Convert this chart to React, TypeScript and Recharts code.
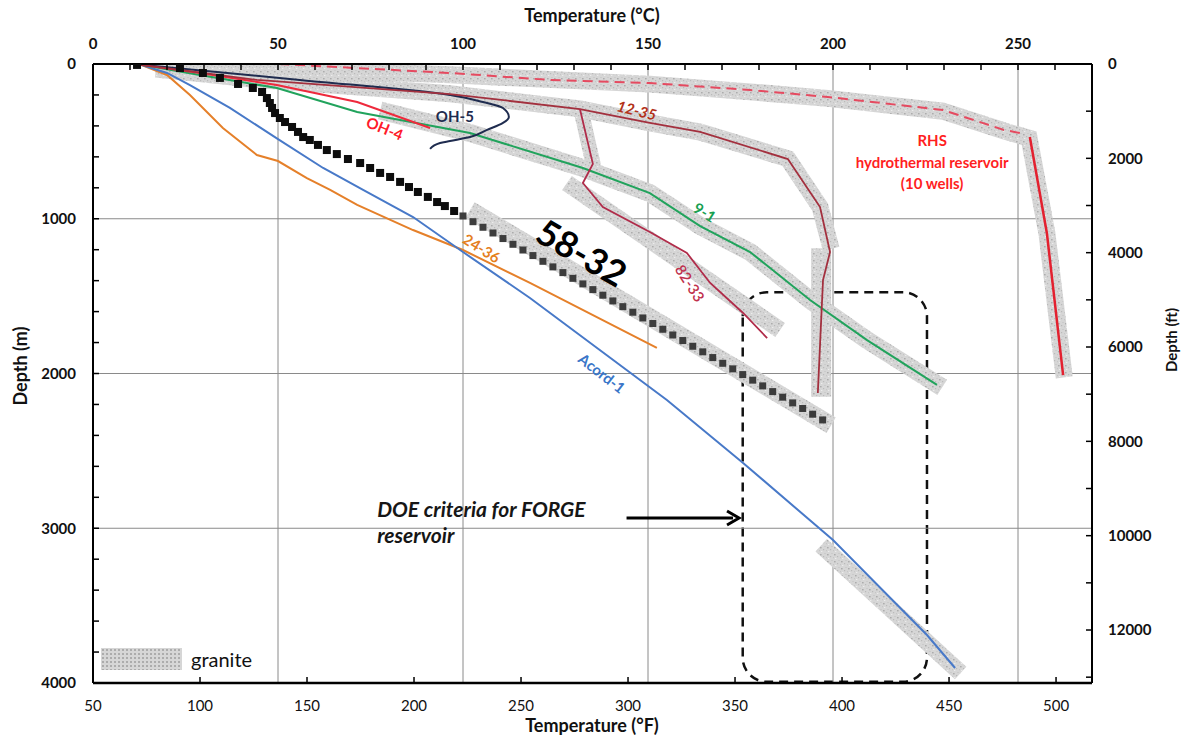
import React from 'react';
import {
  ComposedChart, Line, XAxis, YAxis, ReferenceLine, ReferenceArea, ReferenceDot, Legend, Label, Rectangle,
} from 'recharts';

const FONT = 'Lato, "Open Sans", "DejaVu Sans", sans-serif';

// ---------- axes ----------
const tempTicksC = [0, 10, 20, 30, 40, 50, 60, 70, 80, 90, 100, 110, 120, 130, 140, 150, 160, 170, 180, 190, 200, 210, 220, 230, 240, 250, 260];
const tempTicksF = [50, 100, 150, 200, 250, 300, 350, 400, 450, 500];
const depthTicksM = [0, 200, 400, 600, 800, 1000, 1200, 1400, 1600, 1800, 2000, 2200, 2400, 2600, 2800, 3000, 3200, 3400, 3600, 3800, 4000];
const depthTicksFt = [0, 1000, 2000, 3000, 4000, 5000, 6000, 7000, 8000, 9000, 10000, 11000, 12000, 13000];
const gridTempC = [50, 100, 150, 200, 250];
const gridDepthM = [1000, 2000, 3000];
// extent of the °F scale (used only to anchor the bottom axis)
const fahrenheitSpan = [[50, 0], [516.8, 0]];

// ---------- wells: [temperature °C, depth m] ----------
const well5832Upper = [
  [11.9, 6], [23.5, 26], [29.7, 58], [34.3, 90], [39.2, 129], [43.2, 155], [45.7, 181], [47.0, 220], [47.8, 252],
  [48.4, 284], [49.2, 317], [50.5, 349], [51.9, 375], [53.8, 407], [55.4, 439], [56.8, 472], [58.6, 491], [60.8, 523],
  [63.2, 556], [65.9, 582], [68.9, 614], [72.2, 640], [74.9, 672], [77.6, 704], [80.3, 730], [83.0, 762], [85.4, 795],
  [87.8, 827], [90.5, 859], [93.0, 892], [95.1, 918], [97.6, 950],
];
const well5832Lower = [
  [100.0, 982], [102.7, 1019], [105.4, 1055], [108.1, 1092], [110.8, 1128], [113.5, 1165], [116.2, 1202], [118.9, 1238],
  [121.6, 1275], [124.3, 1311], [127.0, 1348], [129.7, 1385], [132.4, 1421], [135.1, 1458], [137.8, 1494], [140.5, 1531],
  [143.2, 1568], [145.9, 1604], [148.6, 1641], [151.3, 1677], [154.0, 1714], [156.7, 1751], [159.4, 1787], [162.1, 1824],
  [164.8, 1860], [167.5, 1897], [170.2, 1934], [172.9, 1970], [175.6, 2007], [178.3, 2043], [181.0, 2080], [183.7, 2117],
  [186.4, 2153], [189.1, 2190], [191.8, 2226], [194.5, 2263], [197.2, 2300],
];
const wellAcord1 = [
  [13, 5], [20, 58], [26.2, 136], [37, 284], [50, 485], [62.2, 672], [73, 814], [86.5, 989], [100, 1215],
  [118.1, 1512], [155.1, 2171], [175.7, 2578], [200, 3076], [225.4, 3690], [233, 3903],
];
const well2436 = [
  [13, 5], [20, 71], [26.2, 200], [35.1, 414], [44.3, 588], [50, 627], [57.8, 737], [64.1, 814], [71.4, 911],
  [86.5, 1073], [100, 1202], [118.1, 1415], [152.4, 1835],
];
const well91 = [
  [13, 5], [28.9, 71], [49.7, 155], [71.4, 310], [101.9, 446], [132.4, 672], [150.5, 834], [164.1, 1047],
  [177.6, 1215], [193.8, 1525], [209.2, 1784], [228.1, 2074],
];
const wellOH4 = [[13, 5], [28.9, 58], [49.7, 136], [71.4, 246], [91.1, 414]];
const wellOH5 = [
  [13, 5], [55.9, 103], [96.5, 200], [105.4, 246], [110.8, 284], [112.4, 342], [110.8, 381], [106.5, 426],
  [101.9, 472], [96.5, 498], [93.8, 511], [91.1, 549],
];
const well1235 = [
  [13, 5], [44.3, 103], [96.5, 194], [131.6, 291], [150.5, 381], [164.1, 439], [187.8, 614], [196.5, 924],
  [199.2, 1215], [197.3, 1396], [195.9, 2126],
];
const well8233 = [
  [131.6, 291], [135.1, 645], [132.4, 769], [137.8, 924], [150.5, 1086], [160.5, 1221], [166.8, 1415],
  [175.7, 1609], [182.2, 1771],
];
const rhsShallow = [
  [50.3, 0], [96.5, 58], [123.5, 103], [150.5, 123], [177.6, 168], [198.6, 213], [229.7, 297], [246.2, 426], [250.5, 446],
];
const rhsDeep = [[253.2, 472], [257.8, 1092], [262.2, 2010]];

// ---------- granite intervals ----------
const graniteRHS = [
  [17, 25], [50.3, 30], [96.5, 70], [150.5, 130], [177.6, 180], [198.6, 222], [229.7, 305], [246.2, 432],
  [253, 480], [257.8, 1092], [262.5, 2025],
];
const granite1235 = [
  [17, 32], [44.3, 100], [96.5, 192], [131.6, 290], [150.5, 380], [164.1, 440], [187.8, 612], [196.5, 924], [199.5, 1195],
];
const granite1235Deep = [[196.8, 1190], [196.8, 2150]];
const granite8233Upper = [[131.8, 290], [135.3, 660]];
const granite8233 = [[128.1, 769], [185.7, 1719]];
const granite91 = [
  [77.6, 300], [101.9, 446], [132.4, 672], [150.5, 834], [164.1, 1047], [177.6, 1215], [193.8, 1525], [209.2, 1784], [229.5, 2090],
];
const granite5832 = [[101.9, 943], [199.5, 2335]];
const graniteAcord = [[196.8, 3110], [234.5, 3935]];

// ---------- DOE FORGE criteria ----------
const forgeTemp = [175.6, 225.4];
const forgeDepth = [1475, 3992];
const arrowTemp = [144.2, 174.6];
const arrowDepth = 2934;

// ---------- annotation texts ----------
const wellNames = ['58-32', '24-36', 'Acord-1', 'OH-4', 'OH-5', '12-35', '9-1', '82-33'];
const wellNameTemp = [132.2, 105.1, 137.6, 78.9, 97.8, 147, 165.4, 161.4];
const wellNameDepth = [1215, 1189, 1997, 414, 336, 297, 956, 1415];
const rhsLines = ['RHS', 'hydrothermal reservoir', '(10 wells)'];
const rhsLineDepth = [491, 633, 769];
const doeLines = ['DOE criteria for FORGE', 'reservoir'];
const doeLineDepth = [2927, 3095];

const rows = (pairs: number[][]) => pairs.map(([t, d]) => ({ t, d }));

const nameStyle: Record<string, { color: string; size: number; rot: number; italic?: boolean; weight?: number }> = {
  '58-32': { color: '#000', size: 36, rot: 30 },
  '24-36': { color: '#e5801f', size: 15, rot: 32 },
  'Acord-1': { color: '#3a76c8', size: 15, rot: 38 },
  'OH-4': { color: '#ff1a2a', size: 15, rot: 22 },
  'OH-5': { color: '#1f2c4f', size: 15, rot: 0 },
  '12-35': { color: '#b3321a', size: 15, rot: 14, italic: true },
  '9-1': { color: '#18a050', size: 15, rot: 32 },
  '82-33': { color: '#c0304c', size: 15, rot: 57, weight: 600 },
};

const AX = { xAxisId: 'c', yAxisId: 'm' } as const;

const squareDot = (fill: string, s: number) => (p: any) => (
  <rect key={`sq-${p.index}`} x={p.cx - s / 2} y={p.cy - s / 2} width={s} height={s} fill={fill} />
);

const tickStyleBold = { fill: '#111', fontSize: 15, fontWeight: 700, fontFamily: FONT };
const tickStyleReg = { fill: '#111', fontSize: 15, fontWeight: 400, fontFamily: FONT };

export default function App() {
  const granite = [graniteRHS, granite1235, granite1235Deep, granite8233Upper, granite8233, granite91, granite5832, graniteAcord];
  const graniteWidth = [17, 17, 20, 15, 17, 18, 18, 17];
  const lines: { data: number[][]; color: string; w: number; dash?: string; type?: any }[] = [
    { data: well2436, color: '#e5802a', w: 2 },
    { data: wellAcord1, color: '#4879c8', w: 2 },
    { data: well91, color: '#21a35c', w: 2 },
    { data: wellOH4, color: '#ee2a3c', w: 2 },
    { data: wellOH5, color: '#1f2c4f', w: 2, type: 'monotoneY' },
    { data: well1235, color: '#a3303e', w: 1.8 },
    { data: well8233, color: '#b02c4a', w: 1.8 },
    { data: rhsShallow, color: '#e54a60', w: 2, dash: '10 6' },
    { data: rhsDeep, color: '#e3202f', w: 2.5 },
  ];

  return (
    <div style={{ position: 'absolute', left: 0, top: 0, width: 1186, height: 738, background: '#fff' }}>
      <ComposedChart width={1186} height={738} margin={{ top: 34, right: 34, bottom: 25, left: 33 }}>
        <defs>
          <pattern id="graniteTex" width="7" height="7" patternUnits="userSpaceOnUse">
            <rect width="7" height="7" fill="#d6d6d6" />
            <rect x="1" y="1" width="1.6" height="1.4" fill="#acacac" />
            <rect x="4" y="3" width="1.2" height="1.2" fill="#bababa" />
            <rect x="2" y="5" width="1.4" height="1" fill="#ececec" />
            <rect x="5.5" y="0" width="1" height="1" fill="#c0c0c0" />
            <rect x="0" y="4" width="1" height="1.2" fill="#c6c6c6" />
          </pattern>
        </defs>

        <XAxis
          xAxisId="c" orientation="top" type="number" dataKey="t" domain={[0, 270]} allowDataOverflow
          ticks={tempTicksC} interval={0} height={30} tickSize={-6} tickMargin={21.5}
          tickFormatter={(v: number) => (v % 50 === 0 ? String(v) : '')}
          tick={tickStyleBold} axisLine={{ stroke: '#000', strokeWidth: 2 }} tickLine={{ stroke: '#000', strokeWidth: 1.5 }}
        >
          <Label content={() => (
            <text x={592} y={22} textAnchor="middle" fontFamily={FONT} fontWeight={700} fontSize={18} fill="#111">Temperature (°C)</text>
          )} />
        </XAxis>
        <XAxis
          xAxisId="f" orientation="bottom" type="number" dataKey="t" domain={[50, 516.8]} allowDataOverflow
          ticks={tempTicksF} interval={0} height={30} tickSize={-6} tickMargin={23}
          tick={tickStyleReg} axisLine={{ stroke: '#000', strokeWidth: 2.5 }} tickLine={{ stroke: '#000', strokeWidth: 1.5 }}
        >
          <Label content={() => (
            <text x={592} y={732} textAnchor="middle" fontFamily={FONT} fontWeight={700} fontSize={18} fill="#111">Temperature (°F)</text>
          )} />
        </XAxis>
        <YAxis
          yAxisId="m" orientation="left" type="number" dataKey="d" domain={[0, 4000]} reversed allowDataOverflow
          ticks={depthTicksM} interval={0} width={60} tickSize={-6} tickMargin={23}
          tickFormatter={(v: number) => (v % 1000 === 0 ? String(v) : '')}
          tick={tickStyleBold} axisLine={{ stroke: '#000', strokeWidth: 2 }} tickLine={{ stroke: '#000', strokeWidth: 1.5 }}
        >
          <Label content={() => (
            <text x={27} y={366} transform="rotate(-90 27 366)" textAnchor="middle" fontFamily={FONT} fontWeight={700} fontSize={18} fill="#111">Depth (m)</text>
          )} />
        </YAxis>
        <YAxis
          yAxisId="ft" orientation="right" type="number" dataKey="d" domain={[0, 13123.4]} reversed allowDataOverflow
          ticks={depthTicksFt} interval={0} width={60} tickSize={-6} tickMargin={22}
          tickFormatter={(v: number) => (v % 2000 === 0 ? String(v) : '')}
          tick={tickStyleBold} axisLine={{ stroke: '#000', strokeWidth: 2 }} tickLine={{ stroke: '#000', strokeWidth: 1.5 }}
        >
          <Label content={() => (
            <text x={1177} y={340} transform="rotate(-90 1177 340)" textAnchor="middle" fontFamily={FONT} fontWeight={700} fontSize={15} fill="#111">Depth (ft)</text>
          )} />
        </YAxis>

        <Line
          xAxisId="f" yAxisId="ft" data={rows(fahrenheitSpan)} dataKey="d" stroke="none" dot={false} activeDot={false}
          isAnimationActive={false} legendType="none"
        />

        {gridTempC.map((v) => (
          <ReferenceLine key={`gx${v}`} {...AX} x={v} stroke="#8a8a8a" strokeWidth={1} />
        ))}
        {gridDepthM.map((v) => (
          <ReferenceLine key={`gy${v}`} {...AX} y={v} stroke="#8a8a8a" strokeWidth={1} />
        ))}

        {granite.map((g, i) => (
          <Line
            key={`gr${i}`} {...AX} data={rows(g)} dataKey="d" stroke="url(#graniteTex)" strokeWidth={graniteWidth[i]}
            strokeLinecap="butt" strokeLinejoin="miter" dot={false} activeDot={false} isAnimationActive={false} legendType="none"
          />
        ))}

        <ReferenceArea
          {...AX} x1={forgeTemp[0]} x2={forgeTemp[1]} y1={forgeDepth[0]} y2={forgeDepth[1]} ifOverflow="visible"
          shape={(p: any) => (
            <Rectangle x={p.x} y={p.y} width={p.width} height={p.height} radius={24} fill="none" stroke="#111" strokeWidth={2.5} strokeDasharray="9 6" />
          )}
        />

        {lines.map((l, i) => (
          <Line
            key={`ln${i}`} {...AX} data={rows(l.data)} dataKey="d" type={l.type || 'linear'} stroke={l.color} strokeWidth={l.w}
            strokeDasharray={l.dash} dot={false} activeDot={false} isAnimationActive={false} legendType="none"
          />
        ))}

        <Line {...AX} data={rows(well5832Upper)} dataKey="d" stroke="none" dot={squareDot('#0d0d0d', 8)} activeDot={false} isAnimationActive={false} legendType="none" />
        <Line {...AX} data={rows(well5832Lower)} dataKey="d" stroke="none" dot={squareDot('#3c3c3c', 7)} activeDot={false} isAnimationActive={false} legendType="none" />

        <ReferenceLine
          {...AX} segment={[{ x: arrowTemp[0], y: arrowDepth }, { x: arrowTemp[1], y: arrowDepth }]} ifOverflow="visible"
          shape={(p: any) => (
            <g>
              <line x1={p.x1} y1={p.y1} x2={p.x2 - 6} y2={p.y2} stroke="#000" strokeWidth={3} />
              <path d={`M${p.x2 - 12},${p.y2 - 7} L${p.x2},${p.y2} L${p.x2 - 12},${p.y2 + 7}`} fill="none" stroke="#000" strokeWidth={3} />
            </g>
          )}
        />

        {wellNames.map((n, i) => {
          const s = nameStyle[n];
          return (
            <ReferenceDot
              key={`nm${n}`} {...AX} x={wellNameTemp[i]} y={wellNameDepth[i]} r={0} ifOverflow="visible"
              shape={(p: any) => (
                <text
                  x={p.cx} y={p.cy} textAnchor="middle" dominantBaseline="central" transform={`rotate(${s.rot} ${p.cx} ${p.cy})`}
                  fontFamily={FONT} fontSize={s.size} fontWeight={s.weight || 700} fontStyle={s.italic ? 'italic' : 'normal'} fill={s.color}
                >{n}</text>
              )}
            />
          );
        })}

        {rhsLines.map((t, i) => (
          <ReferenceDot
            key={`rhs${i}`} {...AX} x={226.8} y={rhsLineDepth[i]} r={0} ifOverflow="visible"
            shape={(p: any) => (
              <text x={p.cx} y={p.cy} textAnchor="middle" dominantBaseline="central" fontFamily={FONT} fontSize={15} fontWeight={700} fill="#ff1f1f">{t}</text>
            )}
          />
        ))}

        {doeLines.map((t, i) => (
          <ReferenceDot
            key={`doe${i}`} {...AX} x={76.8} y={doeLineDepth[i]} r={0} ifOverflow="visible"
            shape={(p: any) => (
              <text x={p.cx} y={p.cy} textAnchor="start" fontFamily={FONT} fontSize={21} fontWeight={700} fontStyle="italic" fill="#161616">{t}</text>
            )}
          />
        ))}

        <Legend
          layout="vertical" align="center" verticalAlign="middle"
          wrapperStyle={{ left: 101, top: 647, width: 160, height: 24 }}
          content={() => (
            <div style={{ display: 'flex', alignItems: 'center', height: 24 }}>
              <div
                style={{
                  width: 81, height: 22, backgroundColor: '#d6d6d6',
                  backgroundImage: 'radial-gradient(#acacac 0.9px, transparent 1.1px)', backgroundSize: '4px 4px',
                }}
              />
              <span style={{ marginLeft: 9, fontFamily: FONT, fontSize: 20, color: '#111' }}>granite</span>
            </div>
          )}
        />
      </ComposedChart>
    </div>
  );
}
